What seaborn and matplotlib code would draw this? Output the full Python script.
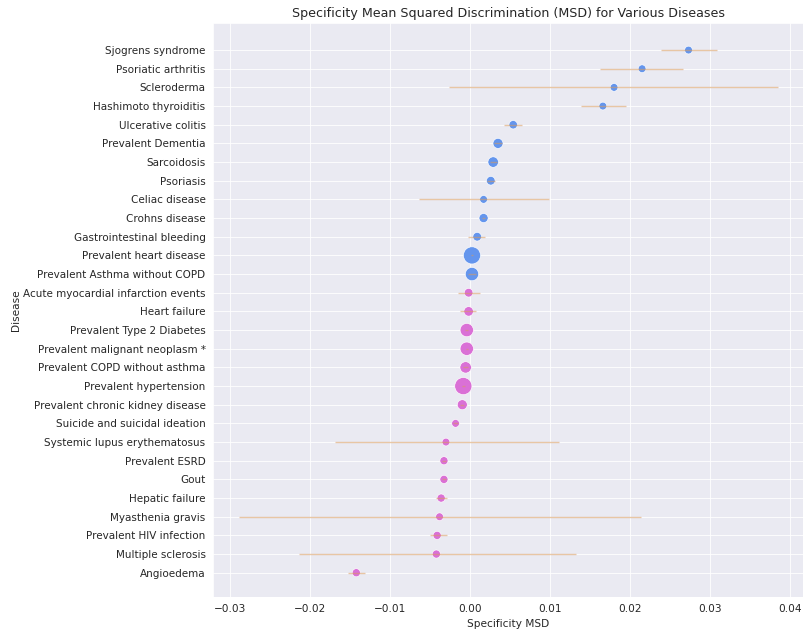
import numpy as np
import pandas as pd
import matplotlib
matplotlib.use("Agg")
import matplotlib.pyplot as plt
import seaborn as sns

diseases = [
    "Sjogrens syndrome", "Psoriatic arthritis", "Scleroderma", "Hashimoto thyroiditis",
    "Ulcerative colitis", "Prevalent Dementia", "Sarcoidosis", "Psoriasis",
    "Celiac disease", "Crohns disease", "Gastrointestinal bleeding",
    "Prevalent heart disease", "Prevalent Asthma without COPD",
    "Acute myocardial infarction events", "Heart failure", "Prevalent Type 2 Diabetes",
    "Prevalent malignant neoplasm *", "Prevalent COPD without asthma",
    "Prevalent hypertension", "Prevalent chronic kidney disease",
    "Suicide and suicidal ideation", "Systemic lupus erythematosus", "Prevalent ESRD",
    "Gout", "Hepatic failure", "Myasthenia gravis", "Prevalent HIV infection",
    "Multiple sclerosis", "Angioedema",
]
msd = [
    0.0273, 0.0215, 0.0180, 0.0166, 0.0054, 0.0035, 0.0029, 0.0026,
    0.0017, 0.0017, 0.0009, 0.00025, 0.00025, -0.00017, -0.00017, -0.0004,
    -0.0004, -0.00054, -0.00083, -0.00096, -0.0018, -0.0030, -0.00325,
    -0.00325, -0.0036, -0.0038, -0.0041, -0.0042, -0.0142,
]
ci_low = [
    0.0239, 0.0163, -0.0026, 0.0139, 0.0043, 0.0030, 0.00245, 0.0021,
    -0.0064, 0.0015, -0.0002, 0.00015, -0.0002, -0.0015, -0.0012, -0.0006,
    -0.00055, -0.00084, -0.00103, -0.00121, -0.0021, -0.0169, -0.00345,
    -0.00345, -0.0043, -0.0288, -0.0050, -0.0214, -0.0152,
]
ci_high = [
    0.0308, 0.0266, 0.0385, 0.0195, 0.0065, 0.0040, 0.00335, 0.0031,
    0.0099, 0.0019, 0.0019, 0.00035, 0.0007, 0.0013, 0.0008, -0.0002,
    -0.00025, -0.00024, -0.00063, -0.00071, -0.0015, 0.0111, -0.00305,
    -0.00305, -0.0029, 0.0214, -0.0029, 0.0132, -0.0131,
]
# relative number of cases (marker area)
n_cases = [
    49, 49, 49, 49, 60, 90, 100, 64, 49, 72, 64, 289, 170, 64, 80,
    170, 170, 120, 289, 90, 49, 49, 55, 55, 55, 49, 55, 55, 55,
]

df = pd.DataFrame({"Disease": diseases, "MSD": msd, "lo": ci_low, "hi": ci_high, "n": n_cases})
df["sign"] = np.where(df["MSD"] > 0, "pos", "neg")

sns.set_style("darkgrid")
DPI = 76
fig, ax = plt.subplots(figsize=(803 / DPI, 633 / DPI), dpi=DPI)

sns.scatterplot(data=df, x="MSD", y="Disease", hue="sign", size="n",
                palette={"pos": "cornflowerblue", "neg": "orchid"},
                sizes=(54, 265), size_norm=(49, 289), legend=False, ax=ax, zorder=2)
ax.errorbar(df["MSD"], df["Disease"],
            xerr=[df["MSD"] - df["lo"], df["hi"] - df["MSD"]],
            fmt="none", ecolor="#d99b5c", alpha=0.55, elinewidth=1.3, zorder=3)

ax.set_ylim(len(diseases) - 1 + 1.3, -1.45)
ax.set_xlim(-0.0321, 0.0416)
ax.tick_params(axis="y", labelsize=9.8)
ax.set_title("Specificity Mean Squared Discrimination (MSD) for Various Diseases", fontsize=12)
ax.set_xlabel("Specificity MSD")
ax.set_ylabel("Disease", labelpad=2)

fig.subplots_adjust(left=213 / 803, right=1.0, top=1 - 23 / 633, bottom=1 - 597 / 633)
plt.savefig("out.png", dpi=DPI)
